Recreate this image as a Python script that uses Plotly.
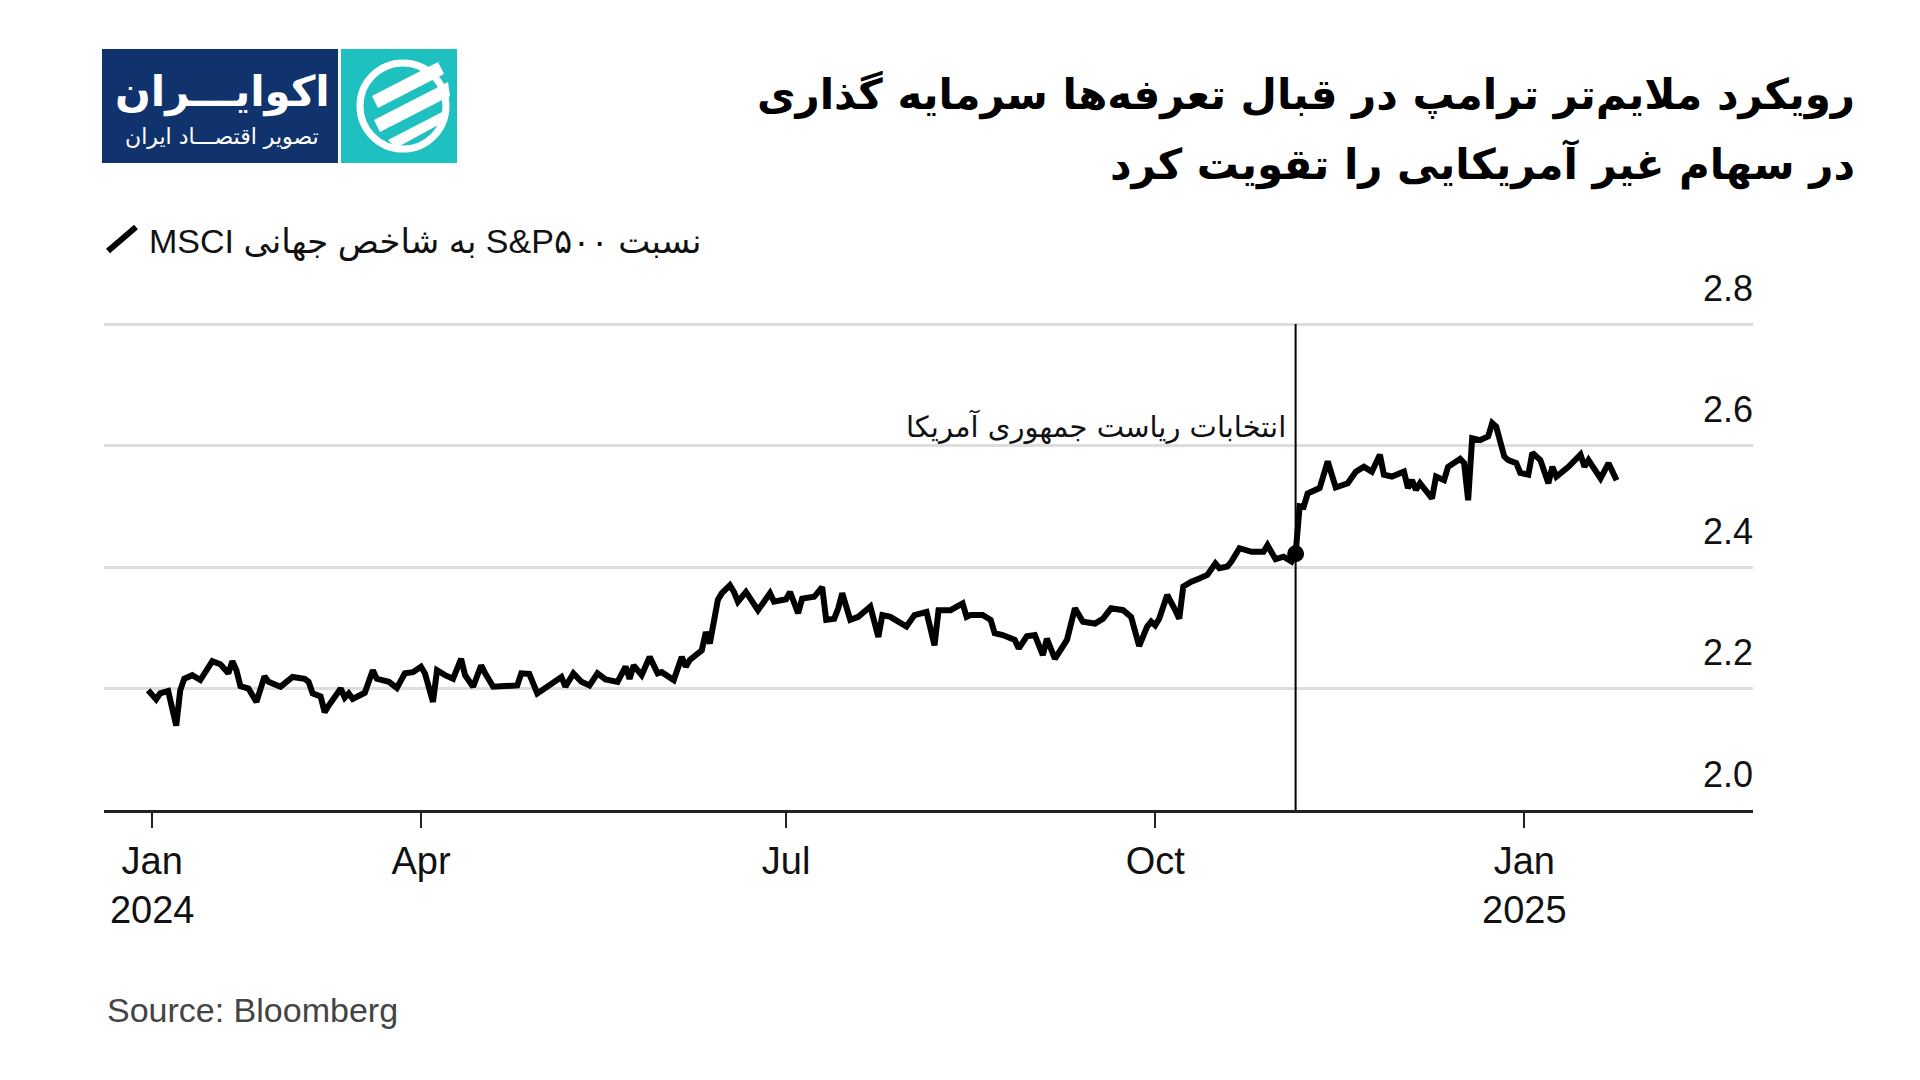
import plotly.graph_objects as go

# ---------------- data ----------------
dates = [
    "2024-01-24", "2024-01-26", "2024-01-27", "2024-01-29", "2024-01-31", "2024-02-01", "2024-02-02",
    "2024-02-04", "2024-02-06", "2024-02-08", "2024-02-09", "2024-02-11", "2024-02-13", "2024-02-14",
    "2024-02-15", "2024-02-16", "2024-02-18", "2024-02-20", "2024-02-22", "2024-02-23", "2024-02-26",
    "2024-02-29", "2024-03-03", "2024-03-04", "2024-03-05", "2024-03-07", "2024-03-08", "2024-03-09",
    "2024-03-12", "2024-03-13", "2024-03-14", "2024-03-15", "2024-03-18", "2024-03-20", "2024-03-21",
    "2024-03-24", "2024-03-26", "2024-03-28", "2024-03-30", "2024-04-01", "2024-04-02", "2024-04-04",
    "2024-04-05", "2024-04-07", "2024-04-09", "2024-04-11", "2024-04-12", "2024-04-14", "2024-04-16",
    "2024-04-17", "2024-04-19", "2024-04-22", "2024-04-25", "2024-04-26", "2024-04-28", "2024-04-30",
    "2024-05-03", "2024-05-06", "2024-05-07", "2024-05-09", "2024-05-11", "2024-05-13", "2024-05-15",
    "2024-05-17", "2024-05-20", "2024-05-22", "2024-05-23", "2024-05-24", "2024-05-26", "2024-05-28",
    "2024-05-30", "2024-05-31", "2024-06-03", "2024-06-05", "2024-06-06", "2024-06-07", "2024-06-10",
    "2024-06-11", "2024-06-12", "2024-06-14", "2024-06-15", "2024-06-17", "2024-06-18", "2024-06-19",
    "2024-06-21", "2024-06-24", "2024-06-27", "2024-06-28", "2024-07-01", "2024-07-02", "2024-07-04",
    "2024-07-05", "2024-07-08", "2024-07-10", "2024-07-11", "2024-07-13", "2024-07-14", "2024-07-15",
    "2024-07-17", "2024-07-19", "2024-07-22", "2024-07-24", "2024-07-25", "2024-07-27", "2024-07-31",
    "2024-08-02", "2024-08-05", "2024-08-07", "2024-08-08", "2024-08-11", "2024-08-14", "2024-08-15",
    "2024-08-16", "2024-08-19", "2024-08-21", "2024-08-22", "2024-08-24", "2024-08-27", "2024-08-28",
    "2024-08-30", "2024-09-01", "2024-09-03", "2024-09-04", "2024-09-06", "2024-09-09", "2024-09-11",
    "2024-09-13", "2024-09-16", "2024-09-18", "2024-09-20", "2024-09-23", "2024-09-25", "2024-09-27",
    "2024-09-29", "2024-09-30", "2024-10-01", "2024-10-02", "2024-10-04", "2024-10-06", "2024-10-07",
    "2024-10-08", "2024-10-10", "2024-10-12", "2024-10-14", "2024-10-16", "2024-10-17", "2024-10-19",
    "2024-10-20", "2024-10-22", "2024-10-25", "2024-10-28", "2024-10-29", "2024-10-31", "2024-11-02",
    "2024-11-04", "2024-11-05", "2024-11-06", "2024-11-07", "2024-11-08", "2024-11-11", "2024-11-13",
    "2024-11-15", "2024-11-18", "2024-11-20", "2024-11-22", "2024-11-24", "2024-11-26", "2024-11-27",
    "2024-11-29", "2024-12-02", "2024-12-03", "2024-12-04", "2024-12-05", "2024-12-06", "2024-12-09",
    "2024-12-10", "2024-12-12", "2024-12-13", "2024-12-16", "2024-12-17", "2024-12-18", "2024-12-19",
    "2024-12-21", "2024-12-23", "2024-12-24", "2024-12-25", "2024-12-27", "2024-12-28", "2024-12-30",
    "2024-12-31", "2025-01-02", "2025-01-03", "2025-01-05", "2025-01-07", "2025-01-08", "2025-01-09",
    "2025-01-12", "2025-01-15", "2025-01-16", "2025-01-17", "2025-01-20", "2025-01-22", "2025-01-24",
]
ratio = [
    2.197, 2.182, 2.192, 2.196, 2.139, 2.197, 2.216,
    2.222, 2.214, 2.233, 2.245, 2.240, 2.225, 2.245,
    2.230, 2.204, 2.200, 2.178, 2.220, 2.211, 2.203,
    2.219, 2.216, 2.211, 2.192, 2.187, 2.161, 2.172,
    2.200, 2.185, 2.192, 2.183, 2.193, 2.230, 2.216,
    2.211, 2.201, 2.225, 2.227, 2.236, 2.225, 2.178,
    2.230, 2.222, 2.216, 2.249, 2.222, 2.203, 2.238,
    2.225, 2.203, 2.204, 2.205, 2.225, 2.224, 2.192,
    2.207, 2.219, 2.203, 2.225, 2.211, 2.205, 2.225,
    2.215, 2.211, 2.236, 2.216, 2.238, 2.222, 2.252,
    2.225, 2.227, 2.214, 2.252, 2.236, 2.247, 2.263,
    2.293, 2.274, 2.346, 2.357, 2.370, 2.359, 2.343,
    2.359, 2.329, 2.357, 2.343, 2.347, 2.359, 2.324,
    2.348, 2.351, 2.367, 2.313, 2.315, 2.332, 2.357,
    2.313, 2.318, 2.335, 2.285, 2.321, 2.318, 2.302,
    2.321, 2.326, 2.271, 2.329, 2.329, 2.340, 2.318,
    2.321, 2.321, 2.313, 2.291, 2.288, 2.280, 2.266,
    2.286, 2.288, 2.255, 2.282, 2.249, 2.280, 2.332,
    2.310, 2.307, 2.315, 2.332, 2.329, 2.318, 2.270,
    2.302, 2.310, 2.304, 2.315, 2.354, 2.329, 2.315,
    2.368, 2.376, 2.381, 2.387, 2.406, 2.398, 2.401,
    2.409, 2.431, 2.425, 2.425, 2.436, 2.413, 2.417,
    2.409, 2.422, 2.500, 2.499, 2.521, 2.530, 2.574,
    2.531, 2.538, 2.557, 2.565, 2.557, 2.585, 2.552,
    2.549, 2.557, 2.530, 2.543, 2.527, 2.538, 2.513,
    2.549, 2.543, 2.565, 2.578, 2.571, 2.510, 2.612,
    2.609, 2.615, 2.637, 2.631, 2.582, 2.576, 2.571,
    2.555, 2.552, 2.588, 2.576, 2.538, 2.565, 2.549,
    2.565, 2.585, 2.565, 2.576, 2.546, 2.571, 2.543,
]

election_date = "2024-11-05"
election_value = 2.422
event_label_y = 2.631

x_tick_vals = ["2024-01-25", "2024-04-01", "2024-07-01", "2024-10-01", "2025-01-01"]
x_tick_text = ["Jan<br>2024", "Apr", "Jul", "Oct", "Jan<br>2025"]
y_tick_vals = [2.0, 2.2, 2.4, 2.6, 2.8]
y_tick_text = ["2.0", "2.2", "2.4", "2.6", "2.8"]
x_range = ["2024-01-13", "2025-02-27"]
y_range = [2.0, 2.81]

RLE, PDF = "\u202b", "\u202c"
title_line1 = "رویکرد ملایم‌تر ترامپ در قبال تعرفه‌ها سرمایه گذاری"
title_line2 = "در سهام غیر آمریکایی را تقویت کرد"
series_name = "نسبت S&P۵۰۰ به شاخص جهانی MSCI"
event_label = "انتخابات ریاست جمهوری آمریکا"
source_text = "Source: Bloomberg"
logo_main = "اکوایـــران"
logo_sub = "تصویر اقتصـــاد ایران"

# ---------------- layout helpers (pixel -> paper) ----------------
W, H = 1920, 1080
PL, PR, PT, PB = 104, 1753, 318, 810


def px(x):
    return (x - PL) / (PR - PL)


def py(y):
    return (PB - y) / (PB - PT)


LATIN = "Liberation Sans, Arial, DejaVu Sans"
PERSIAN = "DejaVu Sans"

fig = go.Figure()
fig.add_trace(go.Scatter(
    x=dates, y=ratio, mode="lines",
    line=dict(color="#000000", width=6),
    hoverinfo="skip",
))
fig.add_trace(go.Scatter(
    x=[election_date], y=[election_value], mode="markers",
    marker=dict(color="#000000", size=17),
    hoverinfo="skip",
))

shapes = [
    # election vertical line (to the top gridline)
    dict(type="line", xref="x", yref="y", x0=election_date, x1=election_date,
         y0=y_tick_vals[0], y1=y_tick_vals[-1], line=dict(color="#000000", width=2)),
    # legend stroke icon
    dict(type="line", xref="paper", yref="paper", x0=px(108), y0=py(251), x1=px(136), y1=py(227),
         line=dict(color="#000000", width=6)),
    # logo boxes
    dict(type="rect", xref="paper", yref="paper", x0=px(102), x1=px(338), y0=py(163), y1=py(49),
         fillcolor="#10336e", line=dict(width=0)),
    dict(type="rect", xref="paper", yref="paper", x0=px(341), x1=px(457), y0=py(163), y1=py(49),
         fillcolor="#1fc0c0", line=dict(width=0)),
    dict(type="circle", xref="paper", yref="paper", x0=px(360), x1=px(446), y0=py(149), y1=py(63),
         line=dict(color="white", width=7)),
]


def poly(points):
    return "M " + " L ".join(f"{px(a):.5f},{py(b):.5f}" for a, b in points) + " Z"


for pts in [
    [(372, 96), (438, 62), (444, 74), (378, 108)],
    [(374, 120), (448, 82), (450, 96), (380, 132)],
    [(388, 140), (446, 110), (440, 124), (396, 148)],
]:
    shapes.append(dict(type="path", xref="paper", yref="paper", path=poly(pts),
                       fillcolor="white", line=dict(width=0)))

annotations = [
    dict(xref="paper", yref="paper", x=px(1857), y=py(95), xanchor="right", yanchor="middle",
         text=RLE + title_line1 + PDF, showarrow=False,
         font=dict(family=PERSIAN, size=42, color="#000000", weight="bold")),
    dict(xref="paper", yref="paper", x=px(1857), y=py(165), xanchor="right", yanchor="middle",
         text=RLE + title_line2 + PDF, showarrow=False,
         font=dict(family=PERSIAN, size=42, color="#000000", weight="bold")),
    dict(xref="paper", yref="paper", x=px(704), y=py(242), xanchor="right", yanchor="middle",
         text=RLE + series_name + PDF, showarrow=False,
         font=dict(family=LATIN, size=34, color="#111111")),
    dict(xref="x", yref="y", x=election_date, y=event_label_y, xanchor="right", yanchor="middle",
         xshift=-8, text=RLE + event_label + PDF, showarrow=False,
         font=dict(family=PERSIAN, size=29, color="#111111")),
    dict(xref="paper", yref="paper", x=px(105), y=py(1010), xanchor="left", yanchor="middle",
         text=source_text, showarrow=False,
         font=dict(family=LATIN, size=34, color="#444444")),
    dict(xref="paper", yref="paper", x=px(222), y=py(92), xanchor="center", yanchor="middle",
         text=RLE + logo_main + PDF, showarrow=False,
         font=dict(family=PERSIAN, size=42, color="white", weight="bold")),
    dict(xref="paper", yref="paper", x=px(222), y=py(137), xanchor="center", yanchor="middle",
         text=RLE + logo_sub + PDF, showarrow=False,
         font=dict(family=PERSIAN, size=22, color="white")),
]

# y tick labels sit above their gridlines, right-aligned to the plot edge
for val, lab in zip(y_tick_vals, y_tick_text):
    annotations.append(dict(
        xref="paper", yref="y", x=1, y=val, xanchor="right", yanchor="middle",
        yshift=36, xshift=2, text=lab, showarrow=False,
        font=dict(family=LATIN, size=36, color="#111111"),
    ))

fig.update_layout(
    width=W, height=H, autosize=False,
    margin=dict(l=PL, r=W - PR, t=PT, b=H - PB, pad=0),
    paper_bgcolor="white", plot_bgcolor="white",
    showlegend=False,
    shapes=shapes, annotations=annotations,
    xaxis=dict(
        type="date", range=x_range,
        tickmode="array", tickvals=x_tick_vals, ticktext=x_tick_text,
        ticks="outside", ticklen=15, tickwidth=2, tickcolor="#222222",
        showline=True, linecolor="#222222", linewidth=3,
        showgrid=False, zeroline=False,
        tickfont=dict(family=LATIN, size=38, color="#111111"),
    ),
    yaxis=dict(
        range=y_range, side="right",
        tickmode="array", tickvals=y_tick_vals,
        showticklabels=False,
        ticks="", showline=False, zeroline=False,
        showgrid=True, gridcolor="#dddddd", gridwidth=2.5,
    ),
)

fig.write_html("out.html")
